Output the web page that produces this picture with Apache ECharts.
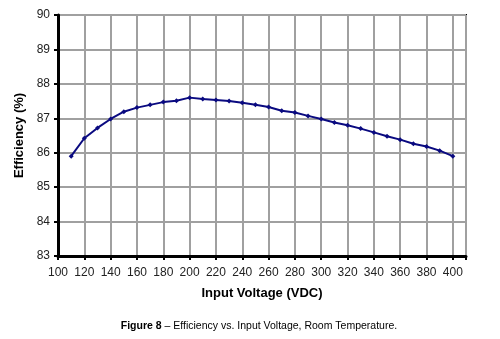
<!DOCTYPE html>
<html>
<head>
<meta charset="utf-8">
<script src="https://cdn.jsdelivr.net/npm/echarts@6/dist/echarts.min.js"></script>
<style>html,body{margin:0;padding:0;background:#fff}#c{width:500px;height:339px}</style>
</head>
<body>
<div id="c"></div>
<script>
const voltages = [110,120,130,140,150,160,170,180,190,200,210,220,230,240,250,260,270,280,290,300,310,320,330,340,350,360,370,380,390,400];
const efficiency = [85.90,86.42,86.72,86.98,87.19,87.31,87.39,87.47,87.51,87.60,87.56,87.53,87.50,87.45,87.39,87.33,87.22,87.17,87.07,86.98,86.88,86.80,86.70,86.59,86.48,86.38,86.26,86.18,86.06,85.90];
const xTicks = [100,120,140,160,180,200,220,240,260,280,300,320,340,360,380,400];
const yTicks = [83,84,85,86,87,88,89,90];

const chart = echarts.init(document.getElementById('c'), null, {renderer:'canvas'});
chart.setOption({
  animation:false,
  backgroundColor:'#fff',
  grid:{left:58,right:34,top:15,bottom:83,show:true,borderColor:'#000',borderWidth:2,backgroundColor:'transparent'},
  xAxis:{
    type:'value', min:100, max:410, interval:20,
    name:'Input Voltage (VDC)', nameLocation:'middle', nameGap:31,
    nameTextStyle:{fontFamily:'Liberation Sans',fontWeight:'bold',fontSize:13,color:'#000'},
    axisLine:{show:true,lineStyle:{color:'#000',width:3}},
    axisTick:{show:true,length:4,lineStyle:{color:'#000',width:2}},
    axisLabel:{fontFamily:'Liberation Sans',fontSize:12,color:'#222',margin:11,
      formatter:v=>xTicks.indexOf(v)>=0?String(v):''},
    splitLine:{show:true,lineStyle:{color:'#a0a0a0',width:2}}
  },
  yAxis:{
    type:'value', min:yTicks[0], max:yTicks[yTicks.length-1], interval:1,
    name:'Efficiency (%)', nameLocation:'middle', nameGap:27,
    nameTextStyle:{fontFamily:'Liberation Sans',fontWeight:'bold',fontSize:13,color:'#000'},
    axisLine:{show:true,lineStyle:{color:'#000',width:3}},
    axisTick:{show:true,length:4,lineStyle:{color:'#000',width:2}},
    axisLabel:{fontFamily:'Liberation Sans',fontSize:12,color:'#222',margin:8},
    splitLine:{show:true,lineStyle:{color:'#a0a0a0',width:2}}
  },
  series:[{
    type:'line',
    data:voltages.map((v,i)=>[v,efficiency[i]]),
    lineStyle:{color:'#0a0a80',width:2},
    itemStyle:{color:'#0a0a80'},
    symbol:'diamond', symbolSize:5, showSymbol:true
  }],
  graphic:[{
    type:'text', x:259, y:326,
    style:{
      text:'{b|Figure 8} – Efficiency vs. Input Voltage, Room Temperature.',
      rich:{b:{fontWeight:'bold',fontFamily:'Liberation Sans',fontSize:10.5,fill:'#000'}},
      fontFamily:'Liberation Sans', fontSize:10.5, fill:'#000',
      align:'center', verticalAlign:'middle'
    }
  }]
});
</script>
</body>
</html>
